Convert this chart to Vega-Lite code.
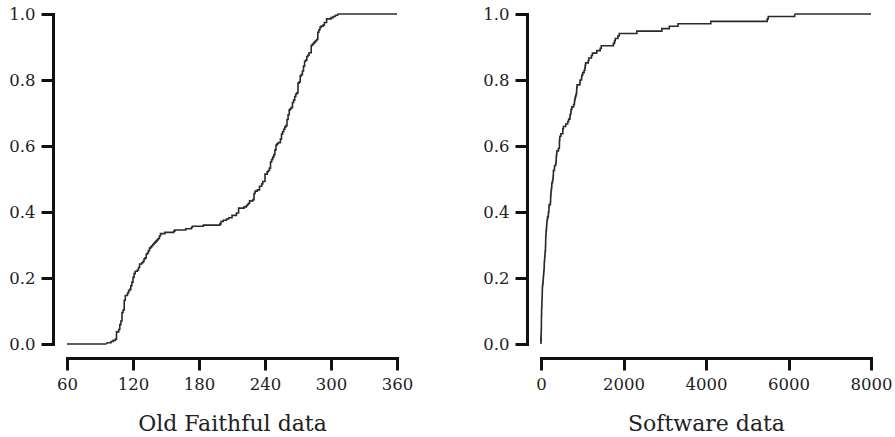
{
  "$schema": "https://vega.github.io/schema/vega-lite/v6.json",
  "padding": {"left": 8, "top": 6, "right": 5, "bottom": 0},
  "background": "white",
  "datasets": {
    "faithful": [
      {"t":216},{"t":108},{"t":200},{"t":137},{"t":272},{"t":173},{"t":282},{"t":216},{"t":117},{"t":261},
      {"t":110},{"t":235},{"t":252},{"t":105},{"t":282},{"t":130},{"t":105},{"t":288},{"t":96},{"t":255},
      {"t":108},{"t":105},{"t":207},{"t":184},{"t":272},{"t":216},{"t":118},{"t":245},{"t":231},{"t":266},
      {"t":258},{"t":268},{"t":202},{"t":242},{"t":230},{"t":121},{"t":112},{"t":290},{"t":110},{"t":287},
      {"t":261},{"t":113},{"t":274},{"t":105},{"t":272},{"t":199},{"t":230},{"t":126},{"t":278},{"t":120},
      {"t":288},{"t":283},{"t":110},{"t":290},{"t":104},{"t":293},{"t":223},{"t":100},{"t":274},{"t":259},
      {"t":134},{"t":270},{"t":105},{"t":288},{"t":109},{"t":264},{"t":250},{"t":282},{"t":124},{"t":282},
      {"t":242},{"t":118},{"t":270},{"t":240},{"t":119},{"t":304},{"t":121},{"t":274},{"t":233},{"t":216},
      {"t":248},{"t":260},{"t":246},{"t":158},{"t":244},{"t":296},{"t":237},{"t":271},{"t":130},{"t":240},
      {"t":132},{"t":260},{"t":112},{"t":289},{"t":110},{"t":258},{"t":280},{"t":225},{"t":112},{"t":294},
      {"t":149},{"t":262},{"t":126},{"t":270},{"t":243},{"t":112},{"t":282},{"t":107},{"t":291},{"t":221},
      {"t":284},{"t":138},{"t":294},{"t":265},{"t":102},{"t":278},{"t":139},{"t":276},{"t":109},{"t":265},
      {"t":157},{"t":244},{"t":255},{"t":118},{"t":276},{"t":226},{"t":115},{"t":270},{"t":136},{"t":279},
      {"t":112},{"t":250},{"t":168},{"t":260},{"t":110},{"t":263},{"t":113},{"t":296},{"t":122},{"t":224},
      {"t":254},{"t":134},{"t":272},{"t":289},{"t":260},{"t":119},{"t":278},{"t":121},{"t":306},{"t":108},
      {"t":302},{"t":240},{"t":144},{"t":276},{"t":214},{"t":240},{"t":270},{"t":245},{"t":108},{"t":238},
      {"t":132},{"t":249},{"t":120},{"t":230},{"t":210},{"t":275},{"t":142},{"t":300},{"t":116},{"t":277},
      {"t":115},{"t":125},{"t":275},{"t":200},{"t":250},{"t":260},{"t":270},{"t":145},{"t":240},{"t":250},
      {"t":113},{"t":275},{"t":255},{"t":226},{"t":122},{"t":266},{"t":245},{"t":110},{"t":265},{"t":131},
      {"t":288},{"t":110},{"t":288},{"t":246},{"t":238},{"t":254},{"t":210},{"t":262},{"t":135},{"t":280},
      {"t":126},{"t":261},{"t":248},{"t":112},{"t":276},{"t":107},{"t":262},{"t":231},{"t":116},{"t":270},
      {"t":143},{"t":282},{"t":112},{"t":230},{"t":205},{"t":254},{"t":144},{"t":288},{"t":120},{"t":249},
      {"t":112},{"t":256},{"t":105},{"t":269},{"t":240},{"t":247},{"t":245},{"t":256},{"t":235},{"t":273},
      {"t":245},{"t":145},{"t":251},{"t":133},{"t":267},{"t":113},{"t":111},{"t":257},{"t":237},{"t":140},
      {"t":249},{"t":141},{"t":296},{"t":174},{"t":275},{"t":230},{"t":125},{"t":262},{"t":128},{"t":261},
      {"t":132},{"t":267},{"t":214},{"t":270},{"t":249},{"t":229},{"t":235},{"t":267},{"t":120},{"t":257},
      {"t":286},{"t":272},{"t":111},{"t":255},{"t":119},{"t":135},{"t":285},{"t":247},{"t":129},{"t":265},
      {"t":109},{"t":268}
    ],
    "software": [
      {"t":30},{"t":113},{"t":81},{"t":115},{"t":9},{"t":2},{"t":91},{"t":112},{"t":15},{"t":138},
      {"t":50},{"t":77},{"t":24},{"t":108},{"t":88},{"t":670},{"t":120},{"t":26},{"t":114},{"t":325},
      {"t":55},{"t":242},{"t":68},{"t":422},{"t":180},{"t":10},{"t":1146},{"t":600},{"t":15},{"t":36},
      {"t":4},{"t":0},{"t":8},{"t":227},{"t":65},{"t":176},{"t":58},{"t":457},{"t":300},{"t":97},
      {"t":263},{"t":452},{"t":255},{"t":197},{"t":193},{"t":6},{"t":79},{"t":816},{"t":1351},{"t":148},
      {"t":21},{"t":233},{"t":134},{"t":357},{"t":193},{"t":236},{"t":31},{"t":369},{"t":748},{"t":0},
      {"t":232},{"t":330},{"t":365},{"t":1222},{"t":543},{"t":10},{"t":16},{"t":529},{"t":379},{"t":44},
      {"t":129},{"t":810},{"t":290},{"t":300},{"t":529},{"t":281},{"t":160},{"t":828},{"t":1011},{"t":445},
      {"t":296},{"t":1755},{"t":1064},{"t":1783},{"t":860},{"t":983},{"t":707},{"t":33},{"t":868},{"t":724},
      {"t":2323},{"t":2930},{"t":1461},{"t":843},{"t":12},{"t":261},{"t":1800},{"t":865},{"t":1435},{"t":30},
      {"t":143},{"t":108},{"t":0},{"t":3110},{"t":1247},{"t":943},{"t":700},{"t":875},{"t":245},{"t":729},
      {"t":1897},{"t":447},{"t":386},{"t":446},{"t":122},{"t":990},{"t":948},{"t":1082},{"t":22},{"t":75},
      {"t":482},{"t":5509},{"t":100},{"t":10},{"t":1071},{"t":371},{"t":790},{"t":6150},{"t":3321},{"t":1045},
      {"t":648},{"t":5485},{"t":1160},{"t":1864},{"t":4116}
    ]
  },
  "config": {
    "view": {"stroke": null},
    "axis": {
      "grid": false,
      "offset": 14,
      "domainColor": "#111",
      "domainWidth": 3,
      "domainCap": "square",
      "tickColor": "#111",
      "tickWidth": 3,
      "tickSize": 12,
      "labelFont": "DejaVu Serif",
      "labelFontSize": 16.5,
      "labelColor": "#222",
      "labelPadding": 6,
      "labelOverlap": false,
      "labelFlush": false,
      "labelBound": false,
      "titleFont": "DejaVu Serif",
      "titleFontSize": 22,
      "titleFontWeight": "normal",
      "titleColor": "#222",
      "titlePadding": 21
    }
  },
  "spacing": 69,
  "hconcat": [
    {
      "width": 330,
      "height": 330,
      "layer": [
        {
          "data": {"name": "faithful"},
          "transform": [
            {"window": [{"op": "cume_dist", "as": "F"}], "sort": [{"field": "t", "order": "ascending"}]}
          ],
          "mark": {"type": "line", "interpolate": "step-after", "color": "#2a2a2a", "strokeWidth": 1.6},
          "encoding": {
            "x": {"field": "t", "type": "quantitative", "scale": {"domain": [60, 360], "nice": false, "zero": false},
                  "axis": {"values": [60, 120, 180, 240, 300, 360], "title": "Old Faithful data"}},
            "y": {"field": "F", "type": "quantitative", "scale": {"domain": [0, 1], "nice": false},
                  "axis": {"values": [0, 0.2, 0.4, 0.6, 0.8, 1.0], "format": ".1f", "title": null}}
          }
        },
        {
          "data": {"values": [
            {"a": 60, "b": 96, "p": 0, "q": 0},
            {"a": 96, "b": 96, "p": 0, "q": 0.00368},
            {"a": 306, "b": 360, "p": 1, "q": 1}
          ]},
          "mark": {"type": "rule", "color": "#2a2a2a", "strokeWidth": 1.6},
          "encoding": {
            "x": {"field": "a", "type": "quantitative"},
            "x2": {"field": "b"},
            "y": {"field": "p", "type": "quantitative"},
            "y2": {"field": "q"}
          }
        }
      ]
    },
    {
      "width": 330,
      "height": 330,
      "layer": [
        {
          "data": {"name": "software"},
          "transform": [
            {"window": [{"op": "cume_dist", "as": "F"}], "sort": [{"field": "t", "order": "ascending"}]}
          ],
          "mark": {"type": "line", "interpolate": "step-after", "color": "#2a2a2a", "strokeWidth": 1.6},
          "encoding": {
            "x": {"field": "t", "type": "quantitative", "scale": {"domain": [0, 8000], "nice": false},
                  "axis": {"values": [0, 2000, 4000, 6000, 8000], "format": "d", "title": "Software data"}},
            "y": {"field": "F", "type": "quantitative", "scale": {"domain": [0, 1], "nice": false},
                  "axis": {"values": [0, 0.2, 0.4, 0.6, 0.8, 1.0], "format": ".1f", "title": null}}
          }
        },
        {
          "data": {"values": [
            {"a": 0, "b": 0, "p": 0, "q": 0.0222},
            {"a": 6150, "b": 8000, "p": 1, "q": 1}
          ]},
          "mark": {"type": "rule", "color": "#2a2a2a", "strokeWidth": 1.6},
          "encoding": {
            "x": {"field": "a", "type": "quantitative"},
            "x2": {"field": "b"},
            "y": {"field": "p", "type": "quantitative"},
            "y2": {"field": "q"}
          }
        }
      ]
    }
  ]
}
